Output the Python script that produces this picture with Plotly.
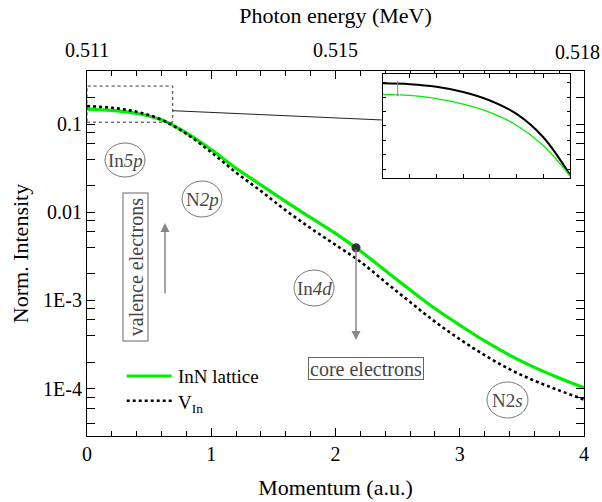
import plotly.graph_objects as go
import math

# ---------------- data ----------------
momentum = [0.0, 0.2, 0.4, 0.6, 0.8, 1.0, 1.2, 1.4, 1.6, 1.8, 2.0,
            2.2, 2.4, 2.6, 2.8, 3.0, 3.2, 3.4, 3.6, 3.8, 4.0]
inn_lattice = [0.148, 0.143, 0.132, 0.112, 0.0794, 0.0513, 0.0316, 0.0204, 0.0132, 0.0087, 0.00575,
               0.00363, 0.00219, 0.00132, 0.00081, 0.000525, 0.000347, 0.00024, 0.000174, 0.000132, 0.000102]
v_in = [0.160, 0.153, 0.138, 0.112, 0.0776, 0.0479, 0.0282, 0.0174, 0.0105, 0.0066, 0.00427,
        0.00275, 0.00162, 0.00096, 0.000575, 0.000363, 0.00024, 0.000166, 0.000123, 0.0000955, 0.000075]

# inset (zoom of low-momentum region)
inset_p = [0.0, 0.1, 0.2, 0.3, 0.4, 0.5, 0.6, 0.7]
inset_vin = [0.1595, 0.1589, 0.1571, 0.1535, 0.1476, 0.1383, 0.1221, 0.0959]
inset_inn = [0.1519, 0.1511, 0.1489, 0.1451, 0.1394, 0.1304, 0.1163, 0.0952]
inset_err_p = [0.055, 0.055]
inset_err_i = [0.1612, 0.1516]

zoom_rect_p = [0, 0.69, 0.69, 0, 0]
zoom_rect_i = [0.105, 0.105, 0.27, 0.27, 0.105]

marker_p = [2.165]
marker_i = [0.00396]

top_tickvals = [0, 1, 2, 3, 4]
top_ticktext = ["0.511", "", "0.515", "", ""]
top_end_label = "0.518"
y_tickvals = [0.1, 0.01, 0.001, 0.0001]
y_ticktext = ["0.1", "0.01", "1E-3", "1E-4"]
y_minor = [m * 10.0 ** e for e in range(-5, 0) for m in (2, 4, 6, 8)]

# ---------------- layout helpers ----------------
W, H = 602, 502
L, R, T, B = 87, 584, 71, 436


def px(x):
    return (x - L) / (R - L)


def py(y):
    return (B - y) / (B - T)


FONT = "Liberation Serif"
GREEN = "rgb(0,238,0)"
TICK_SIZE = 20

fig = go.Figure()

fig.add_trace(go.Scatter(x=momentum, y=inn_lattice, mode="lines", name="InN lattice",
                         line=dict(color=GREEN, width=3.2, shape="spline"), showlegend=False))
fig.add_trace(go.Scatter(x=momentum, y=v_in, mode="lines", name="V<sub>In</sub>",
                         line=dict(color="black", width=2.6, dash="dot", shape="spline"), showlegend=False))
fig.add_trace(go.Scatter(x=zoom_rect_p, y=zoom_rect_i, mode="lines", hoverinfo="skip",
                         line=dict(color="#333", width=1, dash="dot"), showlegend=False))
fig.add_trace(go.Scatter(x=marker_p, y=marker_i, mode="markers",
                         marker=dict(color="#333", size=9), showlegend=False))
# invisible trace for top axis
fig.add_trace(go.Scatter(x=[0, 4], y=[0.1, 0.1], xaxis="x2", mode="lines",
                         line=dict(width=0), hoverinfo="skip", showlegend=False))

# inset
fig.add_trace(go.Scatter(x=inset_p, y=inset_vin, xaxis="x3", yaxis="y3", mode="lines",
                         line=dict(color="black", width=2, shape="spline"), showlegend=False))
fig.add_trace(go.Scatter(x=inset_p, y=inset_inn, xaxis="x3", yaxis="y3", mode="lines",
                         line=dict(color=GREEN, width=1.3, shape="spline"), showlegend=False))
fig.add_trace(go.Scatter(x=inset_err_p, y=inset_err_i, xaxis="x3", yaxis="y3", mode="lines+markers",
                         line=dict(color="#888", width=1),
                         marker=dict(color="#888", size=[0, 4]), showlegend=False))

axis_common = dict(showline=True, linecolor="black", linewidth=1.2, showgrid=False, zeroline=False,
                   ticks="inside", tickcolor="black", tickfont=dict(family=FONT, size=TICK_SIZE, color="black"))

fig.update_layout(
    width=W, height=H,
    margin=dict(l=L, r=W - R, t=T, b=H - B, autoexpand=False),
    paper_bgcolor="white", plot_bgcolor="white",
    font=dict(family=FONT, size=TICK_SIZE, color="black"),
    xaxis=dict(range=[0, 4], dtick=1, ticklen=8, tickwidth=1.2, mirror=True,
               minor=dict(dtick=0.2, ticklen=5, ticks="inside", tickcolor="black"),
               title=dict(text="Momentum (a.u.)", font=dict(family=FONT, size=22), standoff=15),
               **axis_common),
    xaxis2=dict(range=[0, 4], overlaying="x", side="top", anchor="y", tickmode="array",
                tickvals=top_tickvals, ticktext=top_ticktext, ticklen=8, tickwidth=1.2,
                ticklabelstandoff=5,
                minor=dict(dtick=0.2, ticklen=5, ticks="inside", tickcolor="black"),
                title=dict(text="Photon energy (MeV)", font=dict(family=FONT, size=22), standoff=9),
                **axis_common),
    yaxis=dict(type="log", range=[math.log10(2.9e-5), math.log10(0.40)], tickmode="array",
               tickvals=y_tickvals, ticktext=y_ticktext, ticklen=8, tickwidth=1.2, mirror="allticks",
               minor=dict(tickmode="array", tickvals=y_minor, ticklen=5, ticks="inside", tickcolor="black"),
               title=dict(text="Norm. Intensity", font=dict(family=FONT, size=22), standoff=8),
               **axis_common),
    xaxis3=dict(domain=[px(383), px(570)], anchor="y3", range=[0, 0.7], dtick=0.1,
                showline=True, linecolor="black", linewidth=1, mirror="allticks", ticks="inside",
                ticklen=4, tickcolor="black", showticklabels=False, showgrid=False, zeroline=False),
    yaxis3=dict(domain=[py(177.7), py(74)], anchor="x3", range=[0.094, 0.166], dtick=0.01,
                showline=True, linecolor="black", linewidth=1, mirror="allticks", ticks="inside",
                ticklen=3, tickcolor="black", showticklabels=False, showgrid=False, zeroline=False),
)

shapes = []
# connector line from zoom rectangle to inset
shapes.append(dict(type="line", xref="paper", yref="paper", x0=px(172.7), y0=py(110.7),
                   x1=px(383), y1=py(120), line=dict(color="#222", width=1)))
# ellipses around orbital labels
orbitals = [("In<i>5p</i>", 125, 160, 20, 17),
            ("N<i>2p</i>", 202, 199, 20, 18),
            ("In<i>4d</i>", 314, 288, 20, 18),
            ("N2<i>s</i>", 507.5, 400, 20.5, 18)]
annotations = []
for txt, cx, cy, rx, ry in orbitals:
    shapes.append(dict(type="circle", xref="paper", yref="paper",
                       x0=px(cx - rx), x1=px(cx + rx), y0=py(cy + ry), y1=py(cy - ry),
                       line=dict(color="#777", width=1)))
    annotations.append(dict(text=txt, xref="paper", yref="paper", x=px(cx), y=py(cy),
                            showarrow=False, font=dict(family=FONT, size=19, color="#4a4a4a"),
                            xanchor="center", yanchor="middle"))

# end label of the top axis (kept inside the page, as in the original)
annotations.append(dict(text=top_end_label, xref="x2", yref="paper", x=top_tickvals[-1], y=py(52),
                        xshift=-7, showarrow=False, xanchor="center", yanchor="middle",
                        font=dict(family=FONT, size=TICK_SIZE, color="black")))

# legend (manual)
shapes.append(dict(type="line", xref="paper", yref="paper", x0=px(126.7), x1=px(171.7),
                   y0=py(376), y1=py(376), line=dict(color=GREEN, width=3.2)))
shapes.append(dict(type="line", xref="paper", yref="paper", x0=px(126.7), x1=px(171.7),
                   y0=py(400.7), y1=py(400.7), line=dict(color="black", width=2.6, dash="dot")))
annotations.append(dict(text="InN lattice", xref="paper", yref="paper", x=px(176), y=py(376),
                        showarrow=False, xanchor="left", yanchor="middle",
                        font=dict(family=FONT, size=19, color="black")))
annotations.append(dict(text="V<sub>In</sub>", xref="paper", yref="paper", x=px(176), y=py(404),
                        showarrow=False, xanchor="left", yanchor="middle",
                        font=dict(family=FONT, size=19, color="black")))

# boxes with text
annotations.append(dict(text="valence electrons", xref="paper", yref="paper", x=px(135), y=py(267.5),
                        showarrow=False, textangle=-90, xanchor="center", yanchor="middle",
                        width=145, height=22,
                        bordercolor="#666", borderwidth=1, borderpad=1,
                        font=dict(family=FONT, size=20, color="#444")))
annotations.append(dict(text="core electrons", xref="paper", yref="paper", x=px(366), y=py(368),
                        showarrow=False, xanchor="center", yanchor="middle",
                        width=112, height=19,
                        bordercolor="#666", borderwidth=1, borderpad=1,
                        font=dict(family=FONT, size=20, color="#444")))
# arrows
annotations.append(dict(text="", xref="paper", yref="paper", x=px(165), y=py(223),
                        ax=0, ay=72, showarrow=True, arrowhead=2, arrowsize=1.2, arrowwidth=1.5,
                        arrowcolor="#888"))
annotations.append(dict(text="", xref="paper", yref="paper", x=px(356), y=py(340),
                        ax=0, ay=-92, showarrow=True, arrowhead=2, arrowsize=1.2, arrowwidth=1.5,
                        arrowcolor="#888"))

fig.update_layout(shapes=shapes, annotations=annotations)

fig.write_html("out.html", config={"displayModeBar": False},
               post_script="document.body.style.margin='0';")
